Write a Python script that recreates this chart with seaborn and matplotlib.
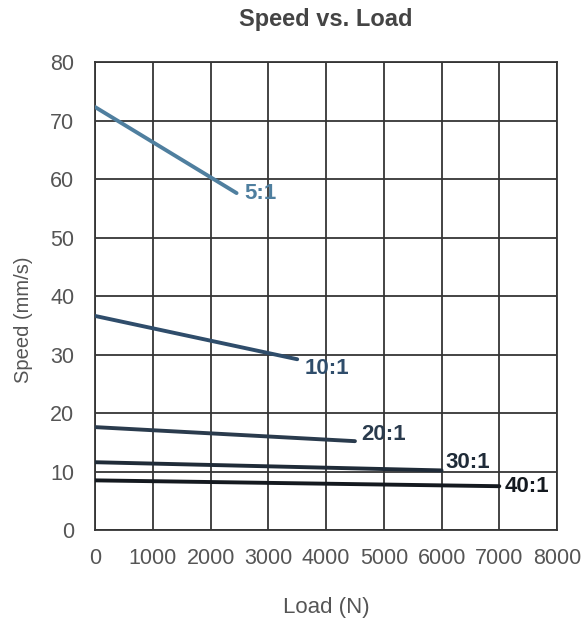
import matplotlib
matplotlib.use("Agg")
import matplotlib.pyplot as plt
import seaborn as sns
import pandas as pd

ratios = ["5:1", "10:1", "20:1", "30:1", "40:1"]
load_start = [0, 0, 0, 0, 0]
load_end = [2450, 3500, 4500, 6000, 7000]
speed_start = [72.3, 36.6, 17.6, 11.6, 8.5]
speed_end = [57.6, 29.2, 15.2, 10.2, 7.5]
colors = ["#4f7f9f", "#2f4d6b", "#2a3b4d", "#1f2b38", "#14191f"]

x_ticks = [0, 1000, 2000, 3000, 4000, 5000, 6000, 7000, 8000]
y_ticks = [0, 10, 20, 30, 40, 50, 60, 70, 80]

# label placement offsets (style, not data)
label_dx = [130, 130, 110, 70, 90]
label_dy = [0.0, -1.5, 1.2, 1.3, -0.1]

rows = []
for r, x0, x1, y0, y1 in zip(ratios, load_start, load_end, speed_start, speed_end):
    rows.append({"ratio": r, "load": x0, "speed": y0})
    rows.append({"ratio": r, "load": x1, "speed": y1})
df = pd.DataFrame(rows)

sns.set_theme(style="white")
plt.rcParams["font.family"] = ["Liberation Sans", "DejaVu Sans"]

fig = plt.figure(figsize=(5.87, 6.2), dpi=100)
ax = fig.add_axes([0.162, 0.145, 0.787, 0.755])

sns.lineplot(data=df, x="load", y="speed", hue="ratio", palette=dict(zip(ratios, colors)),
             linewidth=2.8, legend=False, ax=ax, zorder=3)

for r, x1, y1, c, dx, dy in zip(ratios, load_end, speed_end, colors, label_dx, label_dy):
    ax.text(x1 + dx, y1 + dy, r, color=c, fontsize=16, fontweight="bold",
            va="center", ha="left", zorder=4)

ax.set_xlim(0, 8000)
ax.set_ylim(0, 80)
ax.set_xticks(x_ticks)
ax.set_yticks(y_ticks)
ax.grid(True, color="#353535", linewidth=1.3)
for s in ax.spines.values():
    s.set_color("#353535")
    s.set_linewidth(1.3)
ax.tick_params(axis="x", length=0, labelsize=15.5, labelcolor="#555555", pad=13)
ax.tick_params(axis="y", length=0, labelsize=15.5, labelcolor="#555555", pad=15)

ax.set_xlabel("Load (N)", fontsize=16, color="#555555", labelpad=20)
ax.set_ylabel("Speed (mm/s)", fontsize=14.5, color="#555555", labelpad=14)
ax.yaxis.set_label_coords(-0.135, 0.45)
ax.set_title("Speed vs. Load", fontsize=17, fontweight="bold", color="#444444", pad=26)

fig.savefig("out.png", dpi=100)
